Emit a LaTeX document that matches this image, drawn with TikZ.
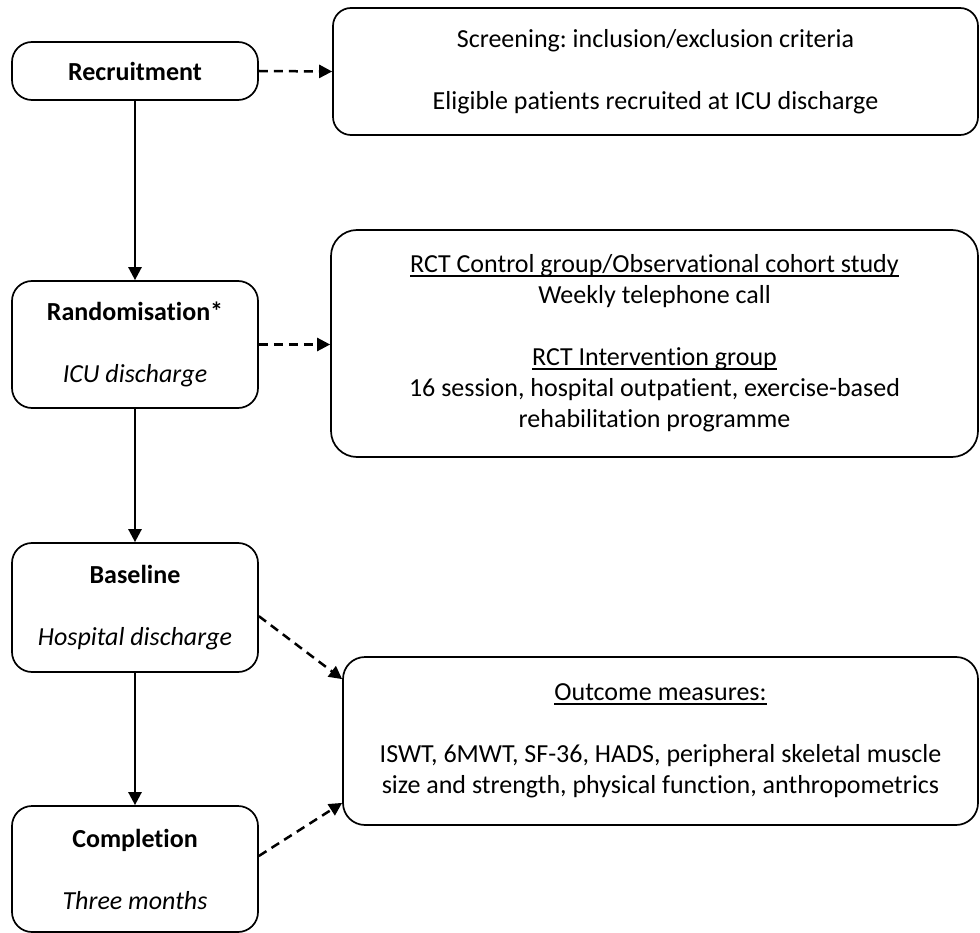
\documentclass[tikz,border=0pt]{standalone}
\usepackage{fontspec}
\setmainfont{Carlito}[Ligatures = {NoCommon, NoRare}]
\usetikzlibrary{arrows.meta}

\newcommand{\undl}[1]{\setbox0=\hbox{#1}\rlap{\rule[-4pt]{\wd0}{1.6pt}}\box0}

\tikzset{
  stagebox/.style = {draw, line width = 1.7pt, rounded corners = 20pt,
    minimum width = 246pt, inner sep = 0pt, align = center},
  infobox/.style = {draw, line width = 1.7pt, rounded corners = 22pt,
    inner sep = 0pt, align = center},
  flow/.style = {-{Triangle[length = 13pt, width = 13pt]}, line width = 2.5pt},
  feed/.style = {flow, dash pattern = on 9pt off 6pt}
}

\begin{document}
\frenchspacing
\begin{tikzpicture}[x = 1pt, y = -1pt,
    font = \fontsize{26}{31}\selectfont]
  \useasboundingbox (0, 0) rectangle (980, 933);

  % stages
  % ------
  \node [stagebox, minimum height = 58pt] (recruit) at (135, 71)
    {\textbf{Recruitment}};
  \node [stagebox, minimum height = 127pt] (random) at (135, 344.5)
    {\textbf{Randomisation*}\\[31pt] \textit{ICU discharge}};
  \node [stagebox, minimum height = 129pt] (baseline) at (135, 607.5)
    {\textbf{Baseline}\\[31pt] \textit{Hospital discharge}};
  \node [stagebox, minimum height = 126pt] (complete) at (135, 869)
    {\textbf{Completion}\\[31pt] \textit{Three months}};

  % details
  % -------
  \node [infobox, minimum width = 645pt, minimum height = 127pt,
    rounded corners = 18pt] (screen) at (655.5, 71.5)
    {Screening: inclusion/exclusion criteria\\[31pt]
     Eligible patients recruited at ICU discharge};
  \node [infobox, minimum width = 647pt, minimum height = 227pt,
    rounded corners = 26pt] (groups) at (654.5, 343.5)
    {\undl{RCT Control group/Observational cohort study}\\
     Weekly telephone call\\[31pt]
     \undl{RCT Intervention group}\\
     16 session, hospital outpatient, exercise-based\\
     rehabilitation programme};
  \node [infobox, minimum width = 635pt, minimum height = 168pt]
    (outcome) at (660.5, 741)
    {\undl{Outcome measures:}\\[31pt]
     ISWT, 6MWT, SF-36, HADS, peripheral skeletal muscle\\
     size and strength, physical function, anthropometrics};

  % arrows
  % ------
  \draw [flow] (recruit) -- (random);
  \draw [flow] (random) -- (baseline);
  \draw [flow] (baseline) -- (complete);

  \draw [feed] (recruit.east) -- (screen.west);
  \draw [feed] (random.east) -- (random.east -| groups.west);
  \draw [feed] (baseline.-4) -- (outcome.169);
  \draw [feed] (complete.6) -- (outcome.191);
\end{tikzpicture}
\end{document}
